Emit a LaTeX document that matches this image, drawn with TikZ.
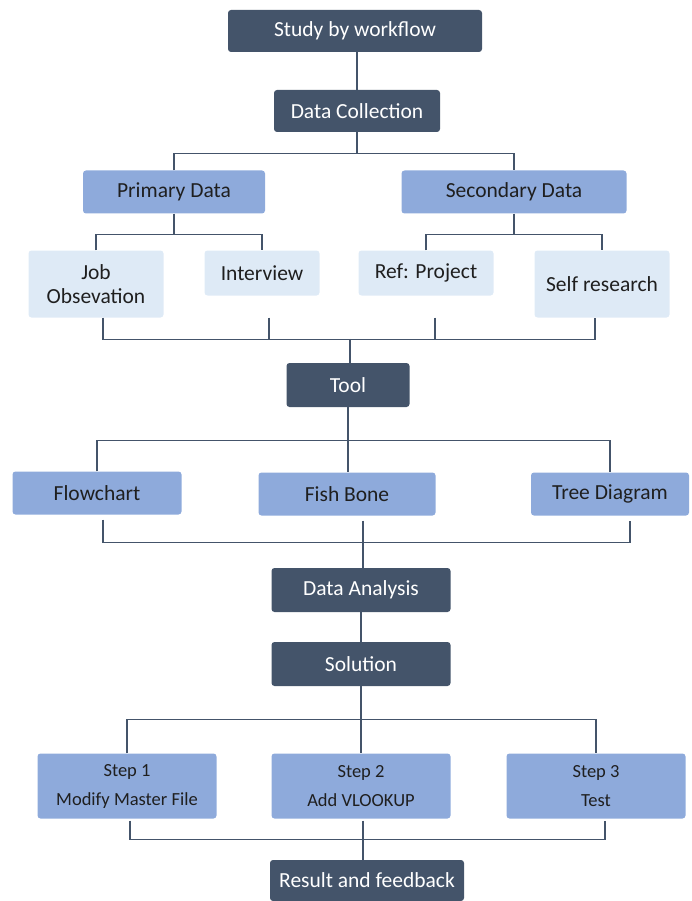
\documentclass[tikz,border=0pt]{standalone}
\usepackage{fontspec}
\setmainfont{Carlito}
\usetikzlibrary{calc}
\definecolor{darkbox}{HTML}{44546A}
\definecolor{midbox}{HTML}{8EAADB}
\definecolor{lightbox}{HTML}{DEEAF6}
\definecolor{linec}{HTML}{44546A}
\definecolor{txt}{HTML}{1F1F1F}
\tikzset{
  base/.style={rectangle, rounded corners=3pt, inner sep=0pt, align=center, font=\fontsize{21.5}{24}\selectfont},
  dbox/.style={base, fill=darkbox, text=white},
  mbox/.style={base, fill=midbox, text=txt},
  lbox/.style={base, fill=lightbox, text=txt},
  sbox/.style={base, fill=midbox, text=txt, font=\fontsize{18.5}{29}\selectfont},
  conn/.style={draw=linec, line width=1.3pt},
}
\begin{document}
\begin{tikzpicture}[x=1pt,y=-1pt]
\useasboundingbox (0,0) rectangle (691,901);
% nodes
\node[dbox, minimum width=254pt, minimum height=42pt] (sw) at (355,31) {Study by workflow};
\node[dbox, minimum width=166pt, minimum height=42pt] (dc) at (357,111) {Data Collection};
\node[mbox, minimum width=182pt, minimum height=43pt] (pd) at (174,192) {Primary Data};
\node[mbox, minimum width=225pt, minimum height=43pt] (sd) at (514,192) {Secondary Data};
\node[lbox, minimum width=135pt, minimum height=67pt] (job) at (96,284) {Job\\Obsevation};
\node[lbox, minimum width=115pt, minimum height=45pt] (int) at (262,273) {Interview};
\node[lbox, minimum width=135pt, minimum height=45pt] (ref) at (426,273) {Ref: Project};
\node[lbox, minimum width=135pt, minimum height=67pt] (self) at (602,284) {Self research};
\node[dbox, minimum width=123pt, minimum height=44pt] (tool) at (348,385) {Tool};
\node[mbox, minimum width=169pt, minimum height=43pt] (flow) at (97,493) {Flowchart};
\node[mbox, minimum width=177pt, minimum height=43pt] (fish) at (347,494) {Fish Bone};
\node[mbox, minimum width=158pt, minimum height=43pt] (tree) at (610,494) {Tree Diagram};
\node[dbox, minimum width=179pt, minimum height=44pt] (da) at (361,590) {Data Analysis};
\node[dbox, minimum width=179pt, minimum height=44pt] (sol) at (361,664) {Solution};
\node[sbox, minimum width=179pt, minimum height=65pt] (s1) at (127,786) {Step 1\\Modify Master File};
\node[sbox, minimum width=179pt, minimum height=65pt] (s2) at (361,786) {Step 2\\Add VLOOKUP};
\node[sbox, minimum width=179pt, minimum height=65pt] (s3) at (596,786) {Step 3\\Test};
\node[dbox, minimum width=194pt, minimum height=41pt] (res) at (367,880.5) {Result and feedback};
% connectors
\draw[conn] (dc.north) -- (dc.north |- sw.south);
\coordinate (b1) at ($(dc.south)+(0,21)$);
\draw[conn] (dc.south) -- (b1);
\draw[conn] (pd.north) |- (b1) -| (sd.north);
\coordinate (b2) at ($(pd.south)+(0,21)$);
\draw[conn] (pd.south) -- (b2);
\draw[conn] (job.north) |- (b2) -| (int.north);
\coordinate (b3) at ($(sd.south)+(0,21)$);
\draw[conn] (sd.south) -- (b3);
\draw[conn] (ref.north) |- (b3) -| (self.north);
% gather to tool
\coordinate (j1) at ($(job.south)+(7,0)$);
\coordinate (i1) at ($(int.south)+(7,22)$);
\coordinate (r1) at ($(ref.south)+(9,22)$);
\coordinate (s1c) at ($(self.south)+(-7,0)$);
\coordinate (b4) at ($(tool.north)+(2,-24)$);
\draw[conn] (j1) -- ++(0,22) -| (s1c);
\draw[conn] (i1) -- ++(0,22);
\draw[conn] (r1) -- ++(0,22);
\draw[conn] (b4) -- (b4 |- tool.north);
% tool to methods
\coordinate (b5) at ($(tool.south)+(0,33)$);
\draw[conn] (tool.south) -- (b5);
\draw[conn] (flow.north) |- (b5) -| (tree.north);
\draw[conn] (b5) -- (b5 |- fish.north);
% methods to DA
\coordinate (f1) at ($(flow.south)+(6,5)$);
\coordinate (t1) at ($(tree.south)+(20,5)$);
\coordinate (b6) at ($(fish.south)+(16,27)$);
\draw[conn] (f1) |- (b6) -| (t1);
\draw[conn] ($(fish.south)+(16,5)$) -- (b6 |- da.north);
\draw[conn] (da) -- (sol);
% solution to steps
\coordinate (b7) at ($(sol.south)+(0,33)$);
\draw[conn] (sol.south) -- (b7);
\draw[conn] (s1.north) |- (b7) -| (s3.north);
\draw[conn] (b7) -- (s2.north);
% steps to result
\coordinate (b8) at ($(s2.south)+(2,21)$);
\draw[conn] ($(s1.south)+(3,2)$) |- (b8) -| ($(s3.south)+(9,2)$);
\draw[conn] ($(s2.south)+(2,2)$) -- (b8 |- res.north);
\end{tikzpicture}
\end{document}
